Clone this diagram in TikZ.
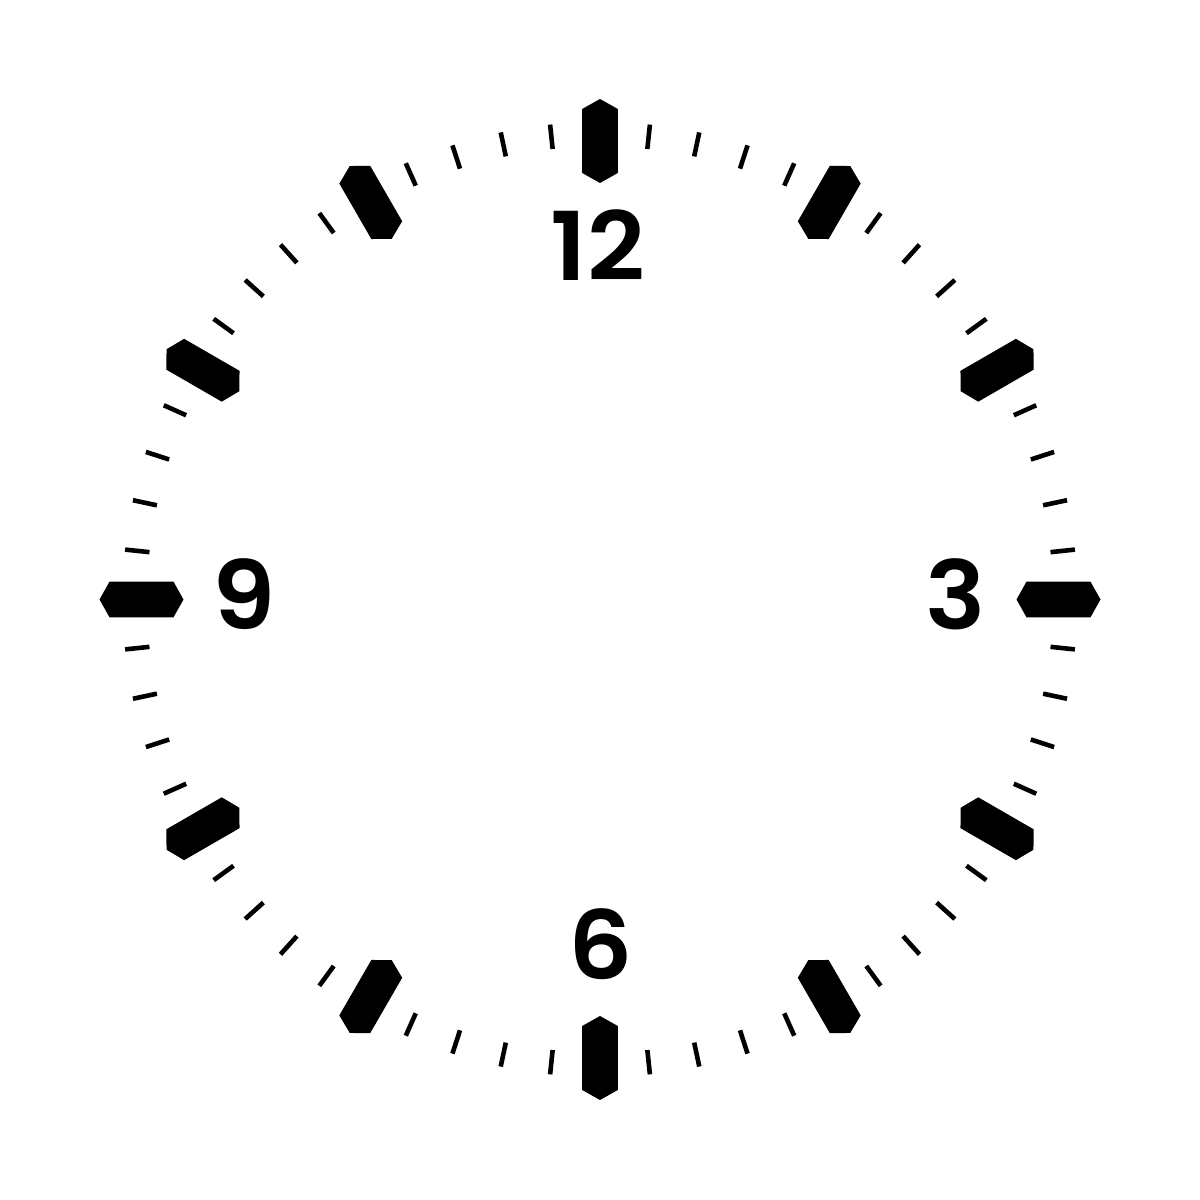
\documentclass[tikz,border=0pt]{standalone}
\usepackage{fontspec}
\newfontfamily\numfont{Poppins SemiBold}
\begin{document}
\begin{tikzpicture}[x=1pt,y=1pt,
  hourmark/.style={fill=black,draw=none},
  minmark/.style={draw=black,line width=4.6pt},
  numlabel/.style={inner sep=0pt,xscale=1.06,font=\numfont\fontsize{95}{95}\selectfont}]
\fill[white] (0,0) rectangle (1200,1200);
\useasboundingbox (0,0) rectangle (1200,1200);
\coordinate (c) at (600,600.5);
% hour markers
\foreach \h in {0,...,11}{
  \begin{scope}[shift={(c)},rotate={90-30*\h}]
    \fill[hourmark] (416.5,0) -- (426.5,17.8) -- (490.5,17.8) -- (500.5,0) -- (490.5,-17.8) -- (426.5,-17.8) -- cycle;
  \end{scope}
}
% minute ticks
\foreach \m in {0,...,59}{
  \pgfmathtruncatemacro{\r}{mod(\m,5)}
  \ifnum\r=0\else
    \draw[minmark,shift={(c)}] ({90-6*\m}:453) -- ({90-6*\m}:477.5);
  \fi
}
% numerals
\node[numlabel] (n12) at (598,955) {12};
\node[numlabel] (n3) at (955.5,605.5) {3};
\node[numlabel] (n6) at (601,256) {6};
\node[numlabel] (n9) at (244,606) {9};
\end{tikzpicture}
\end{document}
